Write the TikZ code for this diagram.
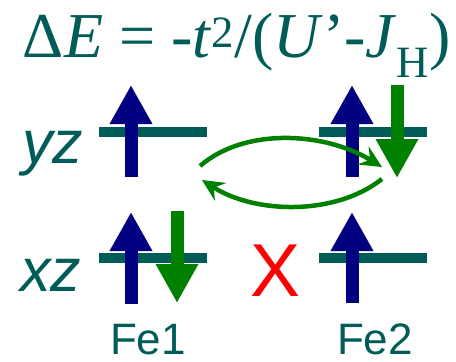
\documentclass[tikz,border=0pt]{standalone}
\usepackage{fontspec}
\setmainfont{Liberation Serif}
\setsansfont{Liberation Sans}
\usepackage{xcolor}
\definecolor{orbteal}{RGB}{0,92,88}
\definecolor{spinup}{RGB}{0,0,128}
\definecolor{spindn}{RGB}{0,128,0}
\definecolor{blockred}{RGB}{255,0,0}
\usetikzlibrary{arrows.meta,positioning}
\tikzset{
  %% orbital levels and spins
  level/.style={draw=none,fill=orbteal,minimum width=108pt,minimum height=10pt,inner sep=0pt},
  upspin/.style={spinup,line width=13pt,-{Triangle[length=39pt,width=40pt]}},
  dnspin/.style={spindn,line width=13pt,-{Triangle[length=39pt,width=40pt]}},
  hop/.style={spindn,line width=4.5pt,-{Stealth[length=22pt,width=21pt,inset=8pt]}},
  orblabel/.style={orbteal,anchor=base west,inner sep=0pt,font=\fontsize{61}{61}\selectfont\sffamily\itshape},
  sitelabel/.style={orbteal,anchor=base,inner sep=0pt,text depth=0pt,font=\fontsize{44}{44}\selectfont\sffamily},
}

\begin{document}
\begin{tikzpicture}[x=1pt,y=-1pt]
  \useasboundingbox (0,0) rectangle (456,362);
  %% energy gain
  \node[orbteal,anchor=base,inner sep=0pt,font=\fontsize{64}{64}\selectfont] (gain) at (237,57)
    {Δ\textit{E} = -\textit{t}\textsuperscript{2}/(\textit{U}’-\textit{J}\textsubscript{H})};
  %% levels
  \node[level] (yz1) at (153,132) {};
  \node[level] (yz2) at (373,132) {};
  \node[level] (xz1) at (153,258) {};
  \node[level] (xz2) at (373,258) {};
  \node[orblabel] (yzlbl) at (22,163) {yz};
  \node[orblabel] (xzlbl) at (20,291) {xz};
  %% spins
  \draw[upspin] (131,177) -- (131,85);
  \draw[upspin] (352,177) -- (352,85);
  \draw[dnspin] (397,85) -- (397,178);
  \draw[upspin] (131,304) -- (131,212);
  \draw[dnspin] (177,211) -- (177,303);
  \draw[upspin] (352,303) -- (352,212);
  %% hopping
  \coordinate (hopa) at (200,166);
  \coordinate (hopb) at (382,167);
  \coordinate (hopc) at (382,179);
  \coordinate (hopd) at (202,180);
  \draw[hop] (hopa) .. controls (245,127) and (325,132) .. (hopb);
  \draw[hop] (hopc) .. controls (335,216) and (255,214) .. (hopd);
  \node[blockred,anchor=base,inner sep=0pt,font=\fontsize{75}{75}\selectfont\sffamily] (block) at (276,296) {X};
  %% sites
  \node[sitelabel] (fe1) at (148,354) {Fe1};
  \node[sitelabel] (fe2) at (375,354) {Fe2};
\end{tikzpicture}
\end{document}
